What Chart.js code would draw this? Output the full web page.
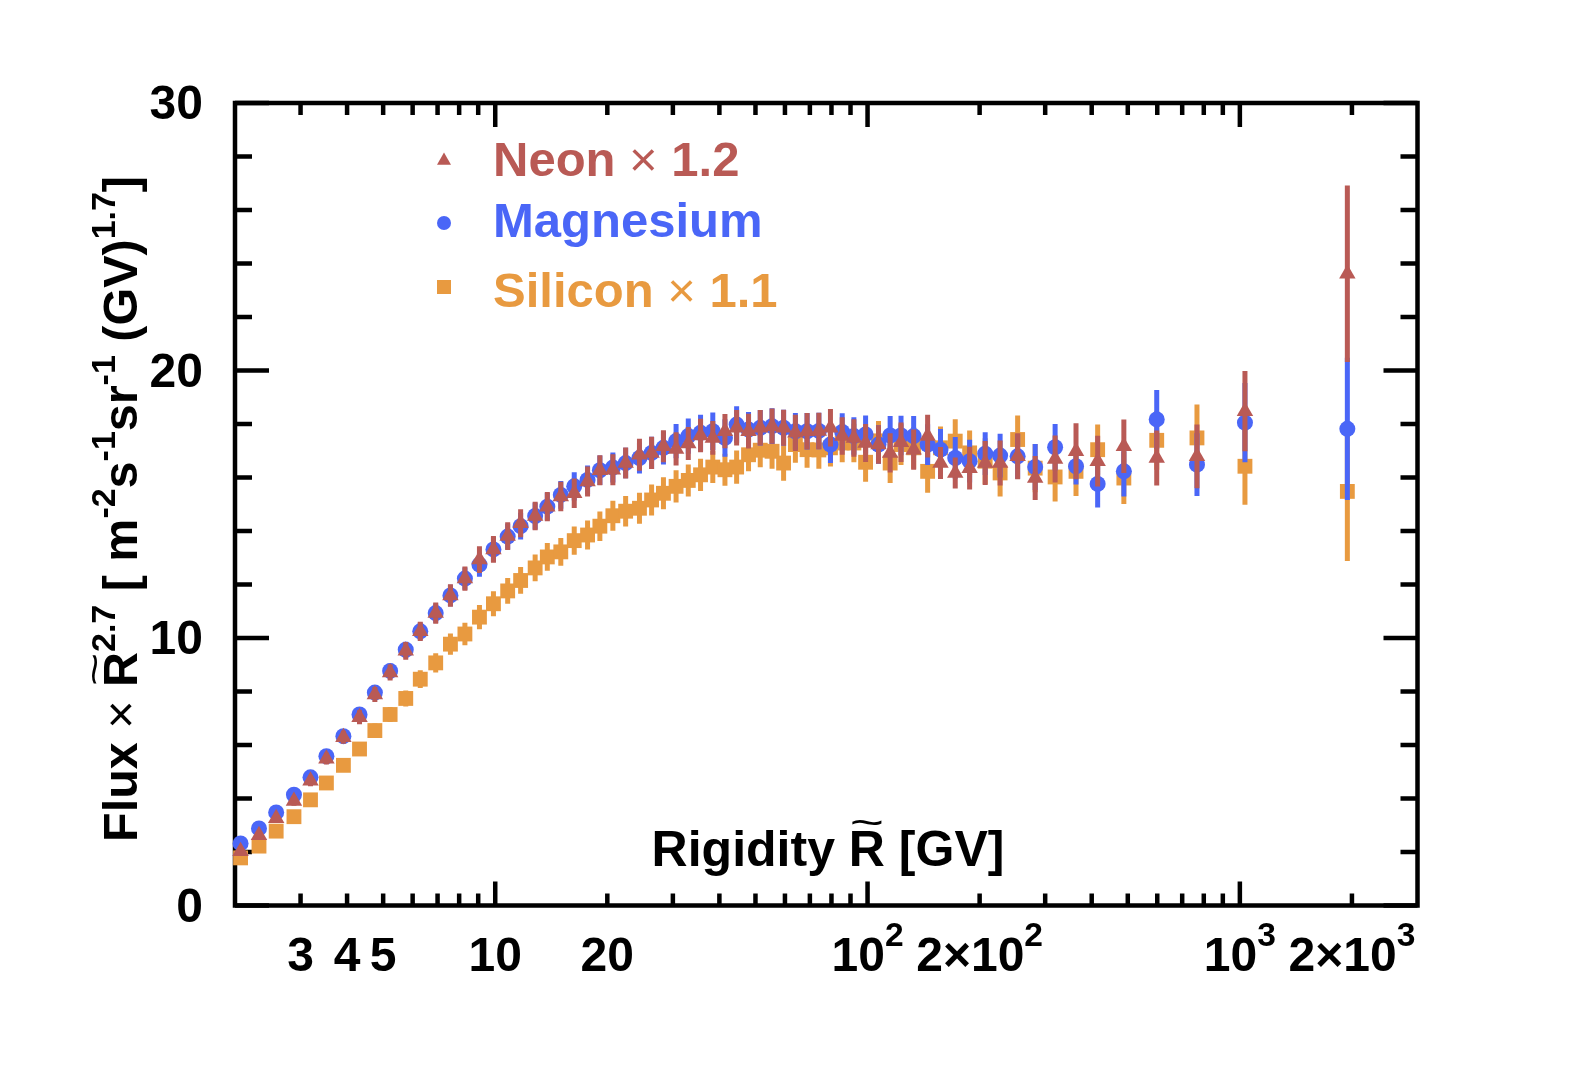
<!DOCTYPE html>
<html>
<head>
<meta charset="utf-8">
<script src="https://cdn.jsdelivr.net/npm/chart.js@4.4.1/dist/chart.umd.min.js"></script>
<style>
  html, body { margin: 0; padding: 0; background: #fff; overflow: hidden; width: 1575px; height: 1066px; }
  canvas { display: block; }
</style>
</head>
<body>
<canvas id="c" width="1575" height="1066"></canvas>
<script>
// rigidity of each bin as plotted [GV]
const rigidity = [
  2.07, 2.32, 2.58, 2.88, 3.19, 3.52, 3.91, 4.32, 4.75, 5.22,
  5.75, 6.29, 6.92, 7.58, 8.29, 9.07, 9.89, 10.8, 11.7, 12.8,
  13.8, 15.0, 16.3, 17.7, 19.1, 20.7, 22.4, 24.4, 26.3, 28.3,
  30.6, 33.0, 35.6, 38.4, 41.4, 44.5, 47.9, 51.5, 55.4, 59.5,
  64.0, 68.8, 74.0, 79.5, 85.5, 91.9, 98.8, 107, 115, 123,
  133, 145, 157, 172, 188, 207, 227, 253, 282, 319,
  363, 415, 488, 598, 767, 1032, 1944,
];

// Flux x R^2.7, Neon scaled x1.2
const neon = [
  2.03, 2.63, 3.26, 3.91, 4.66, 5.49, 6.29, 7.04, 7.89, 8.71,
  9.52, 10.25, 10.93, 11.59, 12.22, 12.93, 13.31, 13.81, 14.29, 14.56,
  14.91, 15.29, 15.41, 15.85, 16.27, 16.29, 16.54, 16.85, 16.92, 17.17,
  17.07, 17.27, 17.57, 17.48, 17.73, 17.86, 17.73, 17.86, 17.92, 17.86,
  17.67, 17.73, 17.74, 17.86, 17.55, 17.48, 17.29, 17.23, 16.92, 17.32,
  17.04, 17.55, 16.54, 16.17, 16.35, 16.54, 16.54, 16.79, 15.98, 16.69,
  16.98, 16.61, 17.17, 16.73, 16.79, 18.48, 23.62,
];
const neonErr = [
  0.12, 0.14, 0.16, 0.18, 0.2, 0.22, 0.24, 0.26, 0.28, 0.3,
  0.33, 0.36, 0.4, 0.42, 0.45, 0.5, 0.5, 0.52, 0.52, 0.53,
  0.55, 0.55, 0.55, 0.56, 0.56, 0.58, 0.58, 0.6, 0.6, 0.6,
  0.62, 0.62, 0.63, 0.63, 0.64, 0.66, 0.65, 0.66, 0.66, 0.67,
  0.68, 0.68, 0.68, 0.7, 0.7, 0.7, 0.71, 0.72, 0.73, 0.74,
  0.75, 0.8, 0.6, 0.58, 0.8, 0.82, 0.84, 0.86, 0.82, 0.88,
  1.05, 0.95, 1.0, 1.03, 1.19, 1.5, 3.3,
];

const magnesium = [
  2.32, 2.88, 3.48, 4.14, 4.79, 5.58, 6.33, 7.14, 7.96, 8.77,
  9.56, 10.25, 10.93, 11.59, 12.22, 12.74, 13.31, 13.79, 14.18, 14.56,
  14.91, 15.35, 15.67, 15.91, 16.27, 16.37, 16.54, 16.73, 16.92, 17.11,
  17.36, 17.55, 17.67, 17.73, 17.48, 17.98, 17.79, 17.86, 17.92, 17.86,
  17.73, 17.73, 17.74, 17.23, 17.70, 17.55, 17.61, 17.23, 17.57, 17.57,
  17.55, 17.23, 17.04, 16.73, 16.61, 16.89, 16.82, 16.79, 16.39, 17.13,
  16.42, 15.76, 16.23, 18.17, 16.48, 18.05, 17.82,
];
const magnesiumErr = [
  0.1, 0.12, 0.14, 0.16, 0.18, 0.2, 0.22, 0.24, 0.26, 0.28,
  0.3, 0.33, 0.36, 0.4, 0.42, 0.45, 0.47, 0.48, 0.5, 0.5,
  0.52, 0.52, 0.53, 0.54, 0.55, 0.56, 0.57, 0.58, 0.6, 0.62,
  0.64, 0.66, 0.68, 0.7, 0.7, 0.68, 0.66, 0.66, 0.67, 0.67,
  0.68, 0.68, 0.68, 0.69, 0.7, 0.7, 0.71, 0.72, 0.73, 0.74,
  0.75, 0.76, 0.77, 0.78, 0.8, 0.8, 0.82, 0.84, 0.86, 0.87,
  0.68, 0.88, 0.94, 1.1, 1.17, 1.48, 2.66,
];

// Silicon scaled x1.1
const silicon = [
  1.78, 2.22, 2.78, 3.32, 3.95, 4.58, 5.24, 5.85, 6.54, 7.14,
  7.74, 8.46, 9.07, 9.77, 10.15, 10.78, 11.28, 11.76, 12.15, 12.62,
  13.03, 13.22, 13.64, 13.85, 14.18, 14.57, 14.74, 14.85, 15.16, 15.41,
  15.67, 15.89, 16.10, 16.39, 16.29, 16.39, 16.85, 17.02, 16.98, 16.54,
  17.23, 17.04, 17.03, 17.11, 17.29, 17.29, 16.57, 17.37, 16.54, 17.23,
  17.11, 16.23, 17.11, 17.36, 16.92, 16.61, 16.17, 17.42, 16.35, 16.02,
  16.23, 17.04, 15.98, 17.39, 17.48, 16.42, 15.48,
];
const siliconErr = [
  0.1, 0.12, 0.14, 0.16, 0.18, 0.2, 0.22, 0.24, 0.26, 0.28,
  0.3, 0.33, 0.36, 0.4, 0.42, 0.45, 0.47, 0.48, 0.5, 0.5,
  0.52, 0.52, 0.53, 0.54, 0.55, 0.56, 0.57, 0.58, 0.58, 0.6,
  0.6, 0.6, 0.6, 0.6, 0.6, 0.62, 0.62, 0.64, 0.65, 0.66,
  0.68, 0.68, 0.7, 0.7, 0.72, 0.72, 0.73, 0.74, 0.75, 0.76,
  0.78, 0.8, 0.8, 0.82, 0.84, 0.86, 0.88, 0.9, 0.9, 0.92,
  0.92, 0.94, 0.97, 1.1, 1.25, 1.44, 2.6,
];

// axis ticks
const xMinorTicks = [3, 4, 5, 6, 7, 8, 9, 20, 30, 40, 50, 60, 70, 80, 90,
  200, 300, 400, 500, 600, 700, 800, 900, 2000];
const xMajorTicks = [10, 100, 1000];
const xLabelValues = [3, 4, 5, 10, 20, 100, 200, 1000, 2000];
const xLabelBase = ["3", "4", "5", "10", "20", "10", "2×10", "10", "2×10"];
const xLabelExp = ["", "", "", "", "", "2", "2", "3", "3"];
const yMinorTicks = [2, 4, 6, 8, 12, 14, 16, 18, 22, 24, 26, 28];
const yMajorTicks = [0, 10, 20, 30];
const yLabels = ["0", "10", "20", "30"];

const C_NE = "#b95a55";
const C_MG = "#4a66f7";
const C_SI = "#e89a40";

const FAM = '"Liberation Sans", Arial, Helvetica, sans-serif';
const fnt = (sz, w = "bold") => `${w} ${sz}px ${FAM}`;

const seg = (t, k = "b") => ({ t, k });

function segFont(s, fs) {
  if (s.k === "sup") return fnt(fs * 0.7);
  if (s.k === "r") return fnt(fs, "normal");
  return fnt(fs);
}

function richWidth(ctx, segs, fs) {
  let w = 0;
  for (const s of segs) {
    ctx.font = segFont(s, fs);
    w += ctx.measureText(s.t).width;
  }
  return w;
}

function drawRich(ctx, segs, x, y, fs, align, rise = 0.45) {
  const total = richWidth(ctx, segs, fs);
  let cx = align === "center" ? x - total / 2 : align === "right" ? x - total : x;
  ctx.textAlign = "left";
  ctx.textBaseline = "alphabetic";
  for (const s of segs) {
    ctx.font = segFont(s, fs);
    const w = ctx.measureText(s.t).width;
    const dy = s.k === "sup" ? -fs * rise : 0;
    ctx.fillText(s.t, cx, y + dy);
    if (s.k === "tilde") {
      ctx.save();
      ctx.font = fnt(fs * 0.8, "normal");
      const tw = ctx.measureText("~").width;
      ctx.translate(cx + w / 2, y - fs * 0.6);
      ctx.scale((w / tw) * 0.95, 1);
      ctx.textAlign = "center";
      ctx.fillText("~", 0, 0);
      ctx.restore();
    }
    cx += w;
  }
}

function drawMarker(ctx, style, x, y, size, color) {
  ctx.fillStyle = color;
  ctx.beginPath();
  if (style === "triangle") {
    const h = size * 0.87;
    ctx.moveTo(x, y - h * 0.62);
    ctx.lineTo(x + size / 2, y + h * 0.38);
    ctx.lineTo(x - size / 2, y + h * 0.38);
    ctx.closePath();
  } else if (style === "circle") {
    ctx.arc(x, y, size / 2, 0, Math.PI * 2);
  } else {
    ctx.rect(x - size / 2, y - size / 2, size, size);
  }
  ctx.fill();
}

const errs = [neonErr, magnesiumErr, siliconErr];

const errorBars = {
  id: "errorBars",
  beforeDatasetDraw(chart, args) {
    const ds = chart.data.datasets[args.index];
    const { ctx } = chart;
    const y = chart.scales.y;
    const e = errs[args.index];
    ctx.save();
    ctx.strokeStyle = ds.backgroundColor;
    ctx.lineWidth = 5;
    ctx.beginPath();
    args.meta.data.forEach((pt, i) => {
      const v = ds.data[i].y;
      ctx.moveTo(pt.x, y.getPixelForValue(v + e[i]));
      ctx.lineTo(pt.x, y.getPixelForValue(v - e[i]));
    });
    ctx.stroke();
    ctx.restore();
  },
};

const frame = {
  id: "frame",
  beforeDatasetsDraw(chart) {
    const { ctx, chartArea: a } = chart;
    const xs = chart.scales.x, ys = chart.scales.y;
    ctx.save();
    ctx.strokeStyle = "#000";
    ctx.lineWidth = 4.5;
    ctx.lineCap = "butt";
    ctx.strokeRect(a.left, a.top, a.right - a.left, a.bottom - a.top);
    ctx.beginPath();
    const xt = (v, len) => {
      const px = xs.getPixelForValue(v);
      ctx.moveTo(px, a.bottom);
      ctx.lineTo(px, a.bottom - len);
      ctx.moveTo(px, a.top);
      ctx.lineTo(px, a.top + len);
    };
    const yt = (v, len) => {
      const py = ys.getPixelForValue(v);
      ctx.moveTo(a.left, py);
      ctx.lineTo(a.left + len, py);
      ctx.moveTo(a.right, py);
      ctx.lineTo(a.right - len, py);
    };
    xMinorTicks.forEach((v) => xt(v, 12));
    xMajorTicks.forEach((v) => xt(v, 24));
    yMinorTicks.forEach((v) => yt(v, 17));
    yMajorTicks.forEach((v) => yt(v, 34));
    ctx.stroke();
    ctx.restore();
  },
  afterDraw(chart) {
    const { ctx } = chart;
    const xs = chart.scales.x, ys = chart.scales.y;
    ctx.save();
    ctx.fillStyle = "#000";

    // y tick labels
    ctx.font = fnt(48);
    ctx.textAlign = "right";
    ctx.textBaseline = "middle";
    yMajorTicks.forEach((v, i) => {
      ctx.fillText(yLabels[i], 203, ys.getPixelForValue(v) + 3);
    });

    // x tick labels
    xLabelValues.forEach((v, i) => {
      const segs = [seg(xLabelBase[i])];
      if (xLabelExp[i]) segs.push(seg(xLabelExp[i], "sup"));
      drawRich(ctx, segs, xs.getPixelForValue(v), 971, 48, "center", 0.52);
    });

    // x title (inside the frame)
    drawRich(ctx, [seg("Rigidity "), seg("R", "tilde"), seg(" [GV]")], 828, 866, 50, "center");

    // y title
    ctx.save();
    ctx.translate(137, 509);
    ctx.rotate(-Math.PI / 2);
    drawRich(ctx, [
      seg("Flux "), seg("×", "r"), seg(" "), seg("R", "tilde"), seg("2.7", "sup"),
      seg(" [ m"), seg("-2", "sup"), seg("s"), seg("-1", "sup"), seg("sr"),
      seg("-1", "sup"), seg(" (GV)"), seg("1.7", "sup"), seg("]"),
    ], 0, 0, 48.5, "center");
    ctx.restore();

    // legend
    const items = [
      { style: "triangle", color: C_NE, y: 176, my: 160, segs: [seg("Neon "), seg("×", "r"), seg(" 1.2")] },
      { style: "circle", color: C_MG, y: 237, my: 223, segs: [seg("Magnesium")] },
      { style: "rect", color: C_SI, y: 307, my: 287, segs: [seg("Silicon "), seg("×", "r"), seg(" 1.1")] },
    ];
    items.forEach((it) => {
      drawMarker(ctx, it.style, 444, it.my, 14, it.color);
      ctx.fillStyle = it.color;
      drawRich(ctx, it.segs, 493, it.y, 49, "left");
    });
    ctx.restore();
  },
};

const pts = (vals) => rigidity.map((r, i) => ({ x: r, y: vals[i] }));

new Chart(document.getElementById("c"), {
  type: "scatter",
  data: {
    datasets: [
      {
        label: "Neon × 1.2",
        data: pts(neon),
        pointStyle: "triangle",
        pointRadius: 9.5,
        backgroundColor: C_NE,
        borderWidth: 0,
        clip: false,
      },
      {
        label: "Magnesium",
        data: pts(magnesium),
        pointStyle: "circle",
        pointRadius: 8,
        backgroundColor: C_MG,
        borderWidth: 0,
        clip: false,
      },
      {
        label: "Silicon × 1.1",
        data: pts(silicon),
        pointStyle: "rect",
        pointRadius: 10.5,
        backgroundColor: C_SI,
        borderWidth: 0,
        clip: false,
      },
    ],
  },
  options: {
    responsive: false,
    devicePixelRatio: 1,
    animation: false,
    events: [],
    layout: { padding: { left: 235, right: 157.5, top: 103, bottom: 160.5 } },
    plugins: { legend: { display: false }, tooltip: { enabled: false } },
    scales: {
      x: { type: "logarithmic", min: 2, max: 3000, display: false },
      y: { type: "linear", min: 0, max: 30, display: false },
    },
  },
  plugins: [errorBars, frame],
});
</script>
</body>
</html>
